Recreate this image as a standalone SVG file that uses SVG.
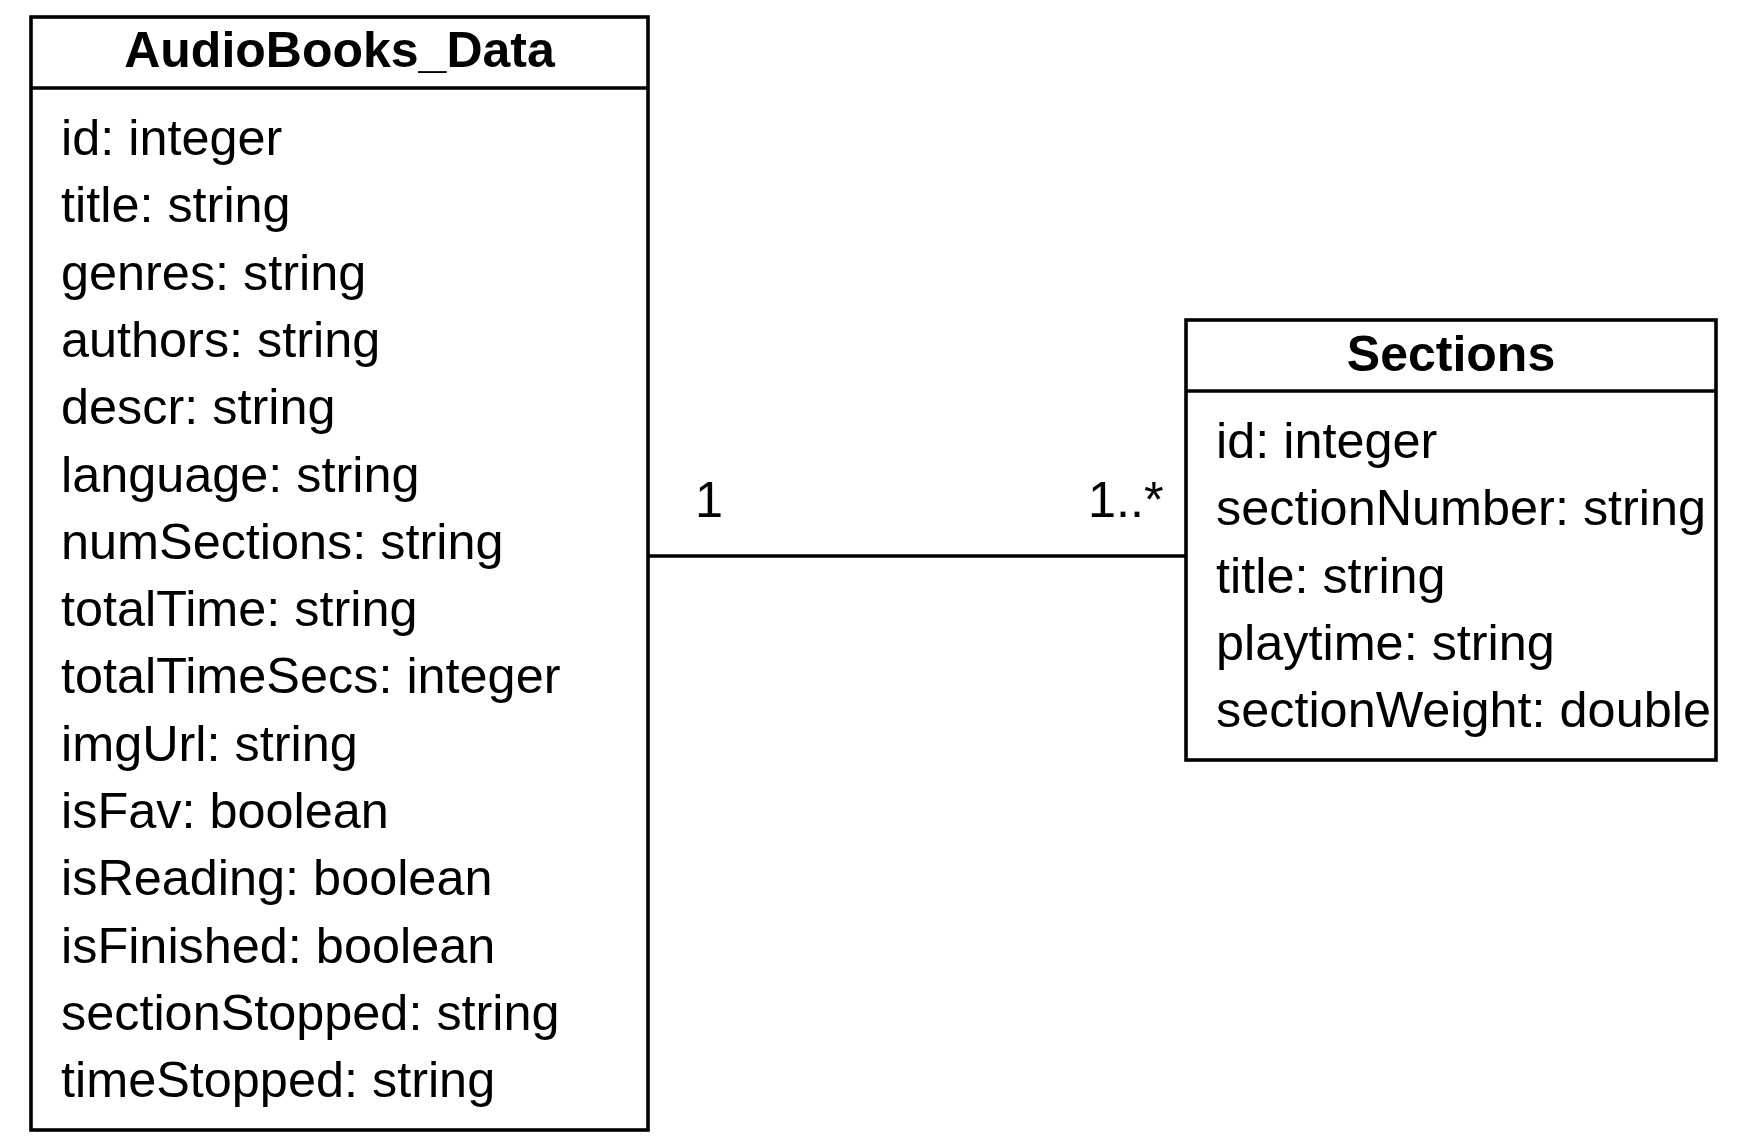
<svg xmlns="http://www.w3.org/2000/svg" width="1740" height="1140" viewBox="0 0 1740 1140">
<style>
.box{fill:#fff;stroke:#000;stroke-width:3.6}
.sep{stroke:#000;stroke-width:3.6}
.hdr{font-family:"Liberation Sans",Arial,sans-serif;font-size:50px;font-weight:bold;text-anchor:middle;fill:#000}
.attr{font-family:"Liberation Sans",Arial,sans-serif;font-size:50.4px;fill:#000}
.conn{stroke:#000;stroke-width:3.6;fill:none}
</style>
<rect width="1740" height="1140" fill="#fff"/>
<g id="connectors">
<line class="conn" x1="648" y1="556" x2="1186" y2="556"/>
<text class="attr" x="695" y="517">1</text>
<text class="attr" x="1088" y="517">1..*</text>
</g>
<g id="AudioBooks_Data">
<rect class="box" x="31" y="17" width="617" height="1113"/>
<line class="sep" x1="31" y1="88" x2="648" y2="88"/>
<text class="hdr" x="339.5" y="67">AudioBooks_Data</text>
<text class="attr" x="61" y="155">id: integer</text>
<text class="attr" x="61" y="222.3">title: string</text>
<text class="attr" x="61" y="289.6">genres: string</text>
<text class="attr" x="61" y="356.9">authors: string</text>
<text class="attr" x="61" y="424.2">descr: string</text>
<text class="attr" x="61" y="491.5">language: string</text>
<text class="attr" x="61" y="558.8">numSections: string</text>
<text class="attr" x="61" y="626.1">totalTime: string</text>
<text class="attr" x="61" y="693.4">totalTimeSecs: integer</text>
<text class="attr" x="61" y="760.7">imgUrl: string</text>
<text class="attr" x="61" y="828">isFav: boolean</text>
<text class="attr" x="61" y="895.3">isReading: boolean</text>
<text class="attr" x="61" y="962.6">isFinished: boolean</text>
<text class="attr" x="61" y="1029.9">sectionStopped: string</text>
<text class="attr" x="61" y="1097.2">timeStopped: string</text>
</g>
<g id="Sections">
<rect class="box" x="1186" y="320" width="530" height="440"/>
<line class="sep" x1="1186" y1="391" x2="1716" y2="391"/>
<text class="hdr" x="1451" y="371">Sections</text>
<text class="attr" x="1216" y="458">id: integer</text>
<text class="attr" x="1216" y="525.3">sectionNumber: string</text>
<text class="attr" x="1216" y="592.6">title: string</text>
<text class="attr" x="1216" y="659.9">playtime: string</text>
<text class="attr" x="1216" y="727.2">sectionWeight: double</text>
</g>
</svg>
